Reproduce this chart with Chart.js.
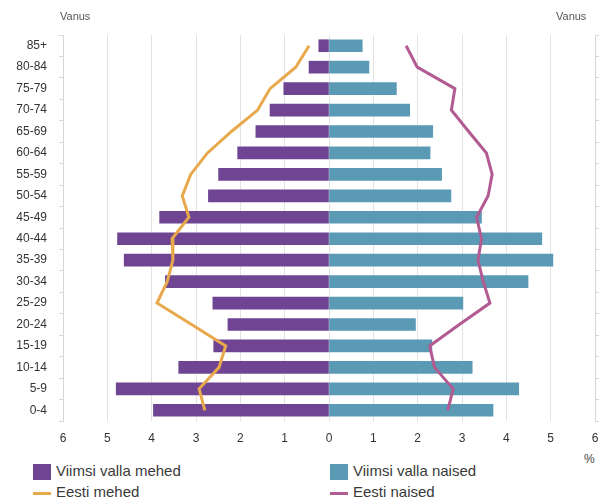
<!DOCTYPE html>
<html>
<head>
<meta charset="utf-8">
<script src="https://cdn.jsdelivr.net/npm/chart.js@4"></script>
<style>
  body { margin: 0; background: #fff; font-family: Arial, "Liberation Sans", sans-serif; }
  #wrap { position: relative; width: 599px; height: 500px; }
  #box { position: absolute; left: 0; top: 0; width: 599px; height: 450px; }
  .lbl { position: absolute; font-size: 11px; color: #555; }
  .leg { position: absolute; font-size: 15px; color: #3a3a3a; line-height: 16px; }
  .sw { display: inline-block; vertical-align: middle; margin-right: 5px; }
</style>
</head>
<body>
<div id="wrap">
  <div id="box"><canvas id="pyramid"></canvas></div>
  <div class="lbl" style="left:60px;top:10px;">Vanus</div>
  <div class="lbl" style="left:556px;top:10px;">Vanus</div>
  <div class="lbl" style="left:584px;top:452px;font-size:12px;color:#444;">%</div>
  <div class="leg" style="left:33px;top:463px;"><span class="sw" style="width:18px;height:16px;background:#6f4593;"></span>Viimsi valla mehed</div>
  <div class="leg" style="left:330px;top:463px;"><span class="sw" style="width:18px;height:16px;background:#5a9ab5;"></span>Viimsi valla naised</div>
  <div class="leg" style="left:33px;top:484px;"><span class="sw" style="width:18px;height:3px;background:#e8a94c;"></span>Eesti mehed</div>
  <div class="leg" style="left:330px;top:484px;"><span class="sw" style="width:18px;height:3px;background:#b25a92;"></span>Eesti naised</div>
</div>
<script>
const ageGroups = ["85+", "80-84", "75-79", "70-74", "65-69", "60-64", "55-59", "50-54", "45-49",
  "40-44", "35-39", "30-34", "25-29", "20-24", "15-19", "10-14", "5-9", "0-4"];
// Viimsi vald, % of population (men shown to the left)
const viimsiMen = [0.23, 0.45, 1.02, 1.33, 1.65, 2.06, 2.49, 2.72, 3.82,
  4.77, 4.62, 3.69, 2.62, 2.28, 2.60, 3.39, 4.80, 3.96];
const viimsiWomen = [0.75, 0.90, 1.52, 1.82, 2.34, 2.28, 2.54, 2.75, 3.44,
  4.80, 5.05, 4.49, 3.02, 1.95, 2.32, 3.23, 4.28, 3.70];
// Estonia overall
const eestiMen = [0.45, 0.75, 1.33, 1.61, 2.2, 2.74, 3.12, 3.31, 3.16,
  3.54, 3.52, 3.65, 3.88, 3.1, 2.33, 2.48, 2.93, 2.80];
const eestiWomen = [1.74, 1.99, 2.84, 2.76, 3.15, 3.55, 3.68, 3.59, 3.33,
  3.44, 3.36, 3.48, 3.63, 2.94, 2.27, 2.38, 2.80, 2.68];
const xTicks = [-6, -5, -4, -3, -2, -1, 0, 1, 2, 3, 4, 5, 6];

const neg = arr => arr.map(v => -v);

new Chart(document.getElementById("pyramid"), {
  type: "bar",
  data: {
    labels: ageGroups,
    datasets: [
      { type: "line", label: "Eesti mehed", data: neg(eestiMen), indexAxis: "y",
        borderColor: "#e8a94c", borderWidth: 3, pointRadius: 0, tension: 0, order: 1 },
      { type: "line", label: "Eesti naised", data: eestiWomen, indexAxis: "y",
        borderColor: "#b25a92", borderWidth: 3, pointRadius: 0, tension: 0, order: 1 },
      { label: "Viimsi valla mehed", data: neg(viimsiMen), backgroundColor: "#6f4593",
        grouped: false, barThickness: 12, order: 2 },
      { label: "Viimsi valla naised", data: viimsiWomen, backgroundColor: "#5a9ab5",
        grouped: false, barThickness: 12, order: 2 },
    ],
  },
  options: {
    indexAxis: "y",
    responsive: true,
    maintainAspectRatio: false,
    animation: false,
    layout: { padding: { top: 35, left: 0, right: 0, bottom: 0 } },
    plugins: { legend: { display: false }, tooltip: { enabled: false } },
    scales: {
      x: {
        min: -6, max: 6,
        afterBuildTicks: s => { s.ticks = xTicks.map(v => ({ value: v })); },
        afterFit: s => { s.height = 29; s.paddingLeft = 0; s.paddingRight = 0; },
        ticks: { callback: v => Math.abs(v), color: "#333", font: { size: 12 }, padding: 10 },
        grid: { color: "#e2e2e2", drawTicks: false },
        border: { display: false },
      },
      y: {
        position: "left",
        afterFit: s => { s.width = 63; },
        ticks: { color: "#333", font: { size: 12 }, padding: 12 },
        grid: { drawOnChartArea: false, tickLength: 4, color: "#d6d6d6" },
        border: { color: "#d6d6d6" },
      },
      y2: {
        type: "category",
        position: "right",
        offset: true,
        afterFit: s => { s.width = 4; },
        ticks: { display: false },
        grid: { drawOnChartArea: false, tickLength: 4, color: "#d6d6d6", offset: true },
        border: { color: "#d6d6d6" },
      },
    },
  },
});
</script>
</body>
</html>
